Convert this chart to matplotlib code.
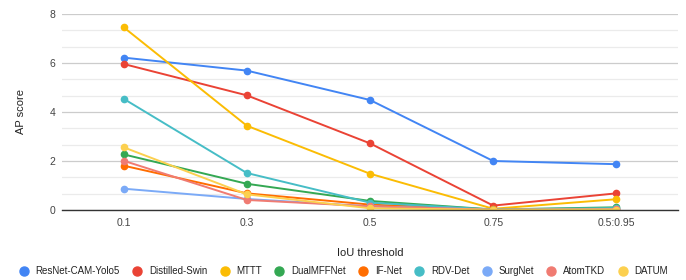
import numpy as np
import matplotlib.pyplot as plt
from matplotlib.lines import Line2D

plt.rcParams['font.family'] = ['Liberation Sans', 'DejaVu Sans']

# IoU thresholds (categorical x axis)
thresholds = ['0.1', '0.3', '0.5', '0.75', '0.5:0.95']

# AP score per method
resnet_cam_yolo5 = [6.22, 5.69, 4.49, 2.00, 1.87]
distilled_swin = [5.96, 4.68, 2.72, 0.18, 0.68]
mttt = [7.46, 3.44, 1.48, 0.05, 0.44]
dualmffnet = [2.27, 1.07, 0.37, 0.02, 0.11]
if_net = [1.81, 0.68, 0.22, 0.02, 0.05]
rdv_det = [4.54, 1.51, 0.30, 0.02, 0.08]
surgnet = [0.87, 0.45, 0.15, 0.01, 0.03]
atomtkd = [2.01, 0.41, 0.15, 0.01, 0.03]
datum = [2.56, 0.64, 0.07, 0.01, 0.02]

names = ['ResNet-CAM-Yolo5', 'Distilled-Swin', 'MTTT', 'DualMFFNet', 'IF-Net',
         'RDV-Det', 'SurgNet', 'AtomTKD', 'DATUM']
series = [resnet_cam_yolo5, distilled_swin, mttt, dualmffnet, if_net,
          rdv_det, surgnet, atomtkd, datum]
colors = ['#4285F4', '#EA4335', '#FBBC04', '#34A853', '#FF6D01',
          '#46BDC6', '#7BAAF7', '#F07B72', '#FCD04F']

fig = plt.figure(figsize=(6.86, 2.8), dpi=100)
ax = fig.add_axes([62 / 686, 1 - 210 / 280, 616 / 686, 196 / 280])

x = np.arange(len(thresholds))
for vals, name, c in zip(series, names, colors):
    ax.plot(x, vals, color=c, lw=1.4, marker='o', ms=4.5, label=name, zorder=3)

# gridlines: major every 2, minor every 2/3
for v in np.arange(0, 8.01, 2 / 3):
    major = abs(v / 2 - round(v / 2)) < 1e-6
    ax.axhline(v, color='#cccccc' if major else '#ebebeb', lw=0.9, zorder=1)

ax.set_xlim(-0.5, len(thresholds) - 0.5)
ax.set_ylim(0, 8)
ax.set_xticks(x)
ax.set_xticklabels(thresholds)
ax.set_yticks([0, 2, 4, 6, 8])
ax.tick_params(length=0, labelsize=7.5, colors='#444444')
ax.tick_params(axis='x', pad=6)
ax.tick_params(axis='y', pad=5)
for s in ['top', 'right', 'left']:
    ax.spines[s].set_visible(False)
ax.spines['bottom'].set_color('#333333')
ax.spines['bottom'].set_linewidth(1)
ax.spines['bottom'].set_zorder(4)

ax.set_xlabel('IoU threshold', fontsize=8, color='#222222', labelpad=14)
ax.set_ylabel('AP score', fontsize=8, color='#222222', labelpad=17)

handles = [Line2D([], [], color=c, marker='o', ls='', ms=6.5) for c in colors]
fig.legend(handles, names, loc='center', bbox_to_anchor=(0.5, 8.5 / 280),
           ncol=9, frameon=False, fontsize=7.0, handletextpad=0.6,
           columnspacing=1.2, handlelength=1.2, labelcolor='#222222',
           borderaxespad=0, borderpad=0)

fig.savefig('out.png', dpi=100)
